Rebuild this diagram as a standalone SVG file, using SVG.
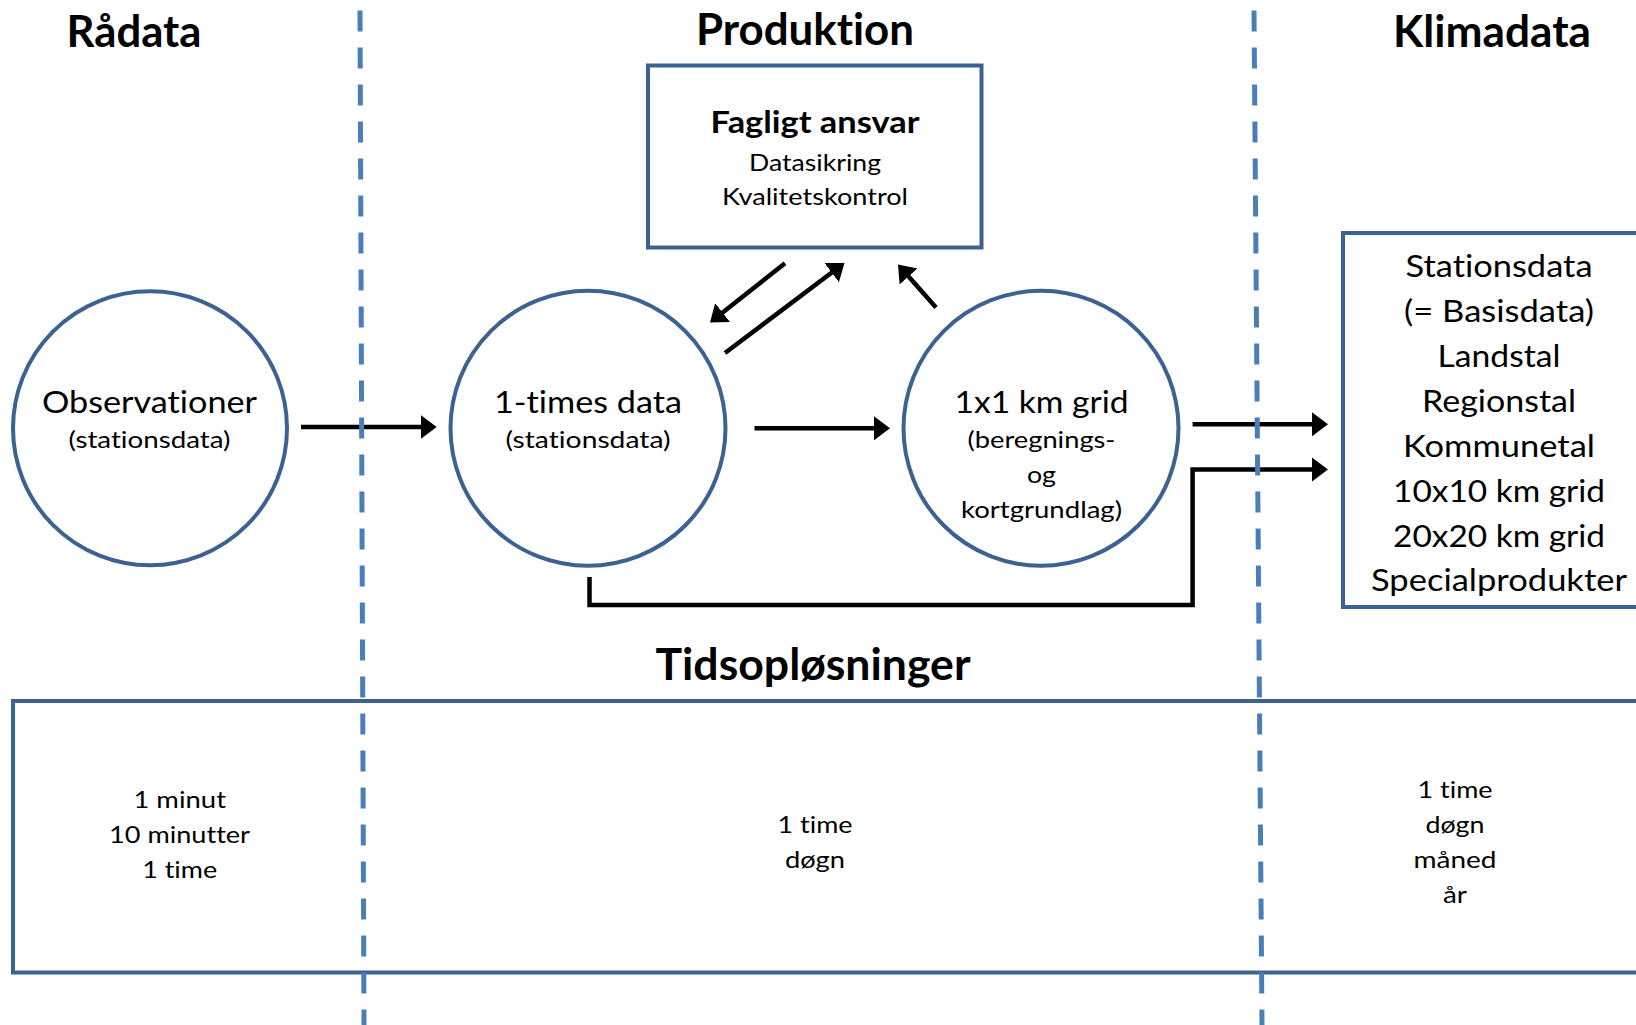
<svg xmlns="http://www.w3.org/2000/svg" width="1636" height="1025" viewBox="0 0 1636 1025">
<defs>
<style>
text{font-family:Lato,"Liberation Sans",sans-serif;fill:#000;text-anchor:middle;font-variant-ligatures:none;font-feature-settings:"liga" 0,"clig" 0}
.h{font-weight:bold;font-size:43px}
.b{font-weight:bold;font-size:31px}
.m{font-size:31px}
.s{font-size:24px}
.t{font-size:23px}
.k{font-size:30px}
.node{fill:#fff;stroke:#3B6292;stroke-width:4}
.frame{fill:none;stroke:#3B6292;stroke-width:4}
.conn{fill:none;stroke:#000;stroke-width:4.5}
.div{stroke:#4A7EBB;stroke-width:5;stroke-dasharray:21 16}
</style>
<marker id="ah" viewBox="0 0 16 24" refX="8" refY="12" markerWidth="16" markerHeight="24" markerUnits="userSpaceOnUse" orient="auto">
<path d="M0,0 L16,12 L0,24 z" fill="#000"/>
</marker>
</defs>
<rect width="1636" height="1025" fill="#fff"/>

<g id="headers">
<text class="h" x="134" y="47" textLength="135" lengthAdjust="spacingAndGlyphs">Rådata</text>
<text class="h" x="805" y="45" textLength="218" lengthAdjust="spacingAndGlyphs">Produktion</text>
<text class="h" x="1492" y="47" textLength="198" lengthAdjust="spacingAndGlyphs">Klimadata</text>
<text class="h" x="813" y="680" textLength="315" lengthAdjust="spacingAndGlyphs">Tidsopløsninger</text>
</g>

<g id="fagligt">
<rect class="node" x="648" y="65.5" width="333.5" height="182"/>
<text class="b" x="815" y="133" textLength="209" lengthAdjust="spacingAndGlyphs">Fagligt ansvar</text>
<text class="s" x="815" y="171" textLength="132" lengthAdjust="spacingAndGlyphs">Datasikring</text>
<text class="s" x="815" y="205" textLength="186" lengthAdjust="spacingAndGlyphs">Kvalitetskontrol</text>
</g>

<g id="observationer">
<circle class="node" cx="150" cy="428.3" r="137"/>
<text class="m" x="149.5" y="412.7" textLength="215" lengthAdjust="spacingAndGlyphs">Observationer</text>
<text class="s" x="149.5" y="448" textLength="162" lengthAdjust="spacingAndGlyphs">(stationsdata)</text>
</g>

<g id="times">
<circle class="node" cx="588" cy="428.3" r="137.5"/>
<text class="m" x="588" y="412.7" textLength="188" lengthAdjust="spacingAndGlyphs">1-times data</text>
<text class="s" x="588" y="448" textLength="165" lengthAdjust="spacingAndGlyphs">(stationsdata)</text>
</g>

<g id="grid">
<circle class="node" cx="1041" cy="428.3" r="137.5"/>
<text class="m" x="1041.5" y="412.7" textLength="174" lengthAdjust="spacingAndGlyphs">1x1 km grid</text>
<text class="s" x="1041.5" y="448" textLength="148" lengthAdjust="spacingAndGlyphs">(beregnings-</text>
<text class="s" x="1041.5" y="483" textLength="29" lengthAdjust="spacingAndGlyphs">og</text>
<text class="s" x="1041.5" y="518" textLength="161" lengthAdjust="spacingAndGlyphs">kortgrundlag)</text>
</g>

<g id="klimadata">
<rect class="node" x="1343" y="233" width="320" height="374"/>
<text class="k" x="1499" y="277" textLength="187" lengthAdjust="spacingAndGlyphs">Stationsdata</text>
<text class="k" x="1499" y="322" textLength="190" lengthAdjust="spacingAndGlyphs">(= Basisdata)</text>
<text class="k" x="1499" y="367" textLength="123" lengthAdjust="spacingAndGlyphs">Landstal</text>
<text class="k" x="1499" y="412" textLength="154" lengthAdjust="spacingAndGlyphs">Regionstal</text>
<text class="k" x="1499" y="457" textLength="192" lengthAdjust="spacingAndGlyphs">Kommunetal</text>
<text class="k" x="1499" y="502" textLength="212" lengthAdjust="spacingAndGlyphs">10x10 km grid</text>
<text class="k" x="1499" y="547" textLength="212" lengthAdjust="spacingAndGlyphs">20x20 km grid</text>
<text class="k" x="1499" y="591" textLength="256" lengthAdjust="spacingAndGlyphs">Specialprodukter</text>
</g>

<g id="tidsoploesninger">
<rect class="frame" x="13" y="701" width="1650" height="271.5"/>
<text class="t" x="179.7" y="808.3" textLength="92.6" lengthAdjust="spacingAndGlyphs">1 minut</text>
<text class="t" x="179.5" y="843.3" textLength="141" lengthAdjust="spacingAndGlyphs">10 minutter</text>
<text class="t" x="179.7" y="878.3" textLength="75" lengthAdjust="spacingAndGlyphs">1 time</text>
<text class="t" x="815" y="833.3" textLength="75" lengthAdjust="spacingAndGlyphs">1 time</text>
<text class="t" x="815" y="868.3" textLength="60" lengthAdjust="spacingAndGlyphs">døgn</text>
<text class="t" x="1455" y="798.3" textLength="75" lengthAdjust="spacingAndGlyphs">1 time</text>
<text class="t" x="1455" y="833.3" textLength="59" lengthAdjust="spacingAndGlyphs">døgn</text>
<text class="t" x="1455" y="868.3" textLength="83" lengthAdjust="spacingAndGlyphs">måned</text>
<text class="t" x="1455" y="903.3" textLength="24" lengthAdjust="spacingAndGlyphs">år</text>
</g>

<g id="connectors">
<line class="conn" x1="301" y1="427" x2="428.7" y2="427" marker-end="url(#ah)"/>
<line class="conn" x1="754.5" y1="428.3" x2="882" y2="428.3" marker-end="url(#ah)"/>
<line class="conn" x1="785" y1="263.3" x2="716.3" y2="317.5" marker-end="url(#ah)"/>
<line class="conn" x1="725" y1="353" x2="838.1" y2="267.8" marker-end="url(#ah)"/>
<line class="conn" x1="936" y1="307.5" x2="903.3" y2="270.5" marker-end="url(#ah)"/>
<line class="conn" x1="1192.6" y1="424.3" x2="1320" y2="424.3" marker-end="url(#ah)"/>
<path class="conn" d="M589.5,577 V605 H1192.6 V469.5 H1320" marker-end="url(#ah)"/>
</g>

<g id="dividers">
<line class="div" x1="360" y1="10.5" x2="364" y2="1025"/>
<line class="div" x1="1254" y1="10.5" x2="1262" y2="1025"/>
</g>
</svg>
